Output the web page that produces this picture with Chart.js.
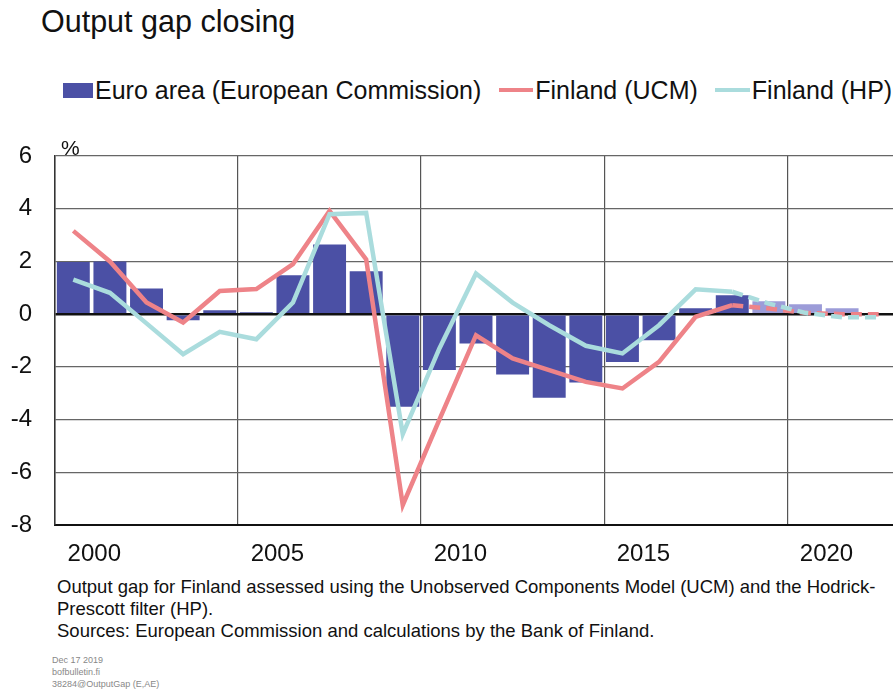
<!DOCTYPE html>
<html>
<head>
<meta charset="utf-8">
<script src="https://cdn.jsdelivr.net/npm/chart.js@4.4.0/dist/chart.umd.min.js"></script>
<style>
  html, body { margin: 0; padding: 0; background: #fff; overflow: hidden; }
  body { width: 893px; height: 690px; position: relative; font-family: "Liberation Sans", Arial, sans-serif; color: #111; }
  #title { position: absolute; left: 41px; top: 4px; font-size: 30.5px; }
  #legend { position: absolute; left: 63px; top: 74px; font-size: 25px; white-space: nowrap; }
  #legend span.it { display: inline-block; vertical-align: middle; }
  .sw { display: inline-block; vertical-align: middle; }
  #pct { position: absolute; left: 61px; top: 136px; font-size: 21px; }
  #c { position: absolute; left: 0; top: 130px; }
  #note { position: absolute; left: 57px; top: 576px; font-size: 18.5px; line-height: 22px; }
  #small { position: absolute; left: 52px; top: 654px; font-size: 9px; line-height: 12px; color: #888; }
</style>
</head>
<body>
<div id="title">Output gap closing</div>
<div id="legend">
  <span class="sw" style="width:30px;height:15px;background:#4b50a5;"></span><span class="it" style="margin-left:2px;margin-right:18px;">Euro area (European Commission)</span><span class="sw" style="width:34px;height:4px;background:#ee8388;"></span><span class="it" style="margin-left:2px;margin-right:17px;">Finland (UCM)</span><span class="sw" style="width:35px;height:4px;background:#aadcdd;"></span><span class="it" style="margin-left:2px;">Finland (HP)</span>
</div>
<canvas id="c" width="897" height="440"></canvas>
<div id="pct">%</div>
<div id="note">Output gap for Finland assessed using the Unobserved Components Model (UCM) and the Hodrick-<br>Prescott filter (HP).<br>Sources: European Commission and calculations by the Bank of Finland.</div>
<div id="small">Dec 17 2019<br>bofbulletin.fi<br>38284@OutputGap (E,AE)</div>

<script>
// years on the x axis
var years = [2000, 2001, 2002, 2003, 2004, 2005, 2006, 2007, 2008, 2009, 2010,
  2011, 2012, 2013, 2014, 2015, 2016, 2017, 2018, 2019, 2020, 2021, 2022];
// euro area output gap, %
var euroArea = [1.98, 2.0, 0.97, -0.23, 0.15, 0.07, 1.48, 2.64, 1.63, -3.51, -2.12,
  -1.11, -2.29, -3.17, -2.59, -1.82, -0.99, 0.22, 0.72, 0.49, 0.38, 0.22, null];
// Finland, UCM
var finUcm = [3.16, 2.0, 0.44, -0.32, 0.88, 0.95, 1.9, 3.92, 2.08, -7.24, -4.0,
  -0.8, -1.68, -2.12, -2.57, -2.82, -1.81, -0.1, 0.34, 0.21, 0.05, 0.0, 0.0];
// Finland, HP filter
var finHp = [1.31, 0.81, -0.35, -1.52, -0.67, -0.95, 0.44, 3.79, 3.84, -4.55, -1.3,
  1.54, 0.44, -0.42, -1.2, -1.49, -0.42, 0.94, 0.85, 0.4, 0.05, -0.12, -0.12];
var yTicks = [6, 4, 2, 0, -2, -4, -6, -8];
var firstForecast = 2019;

var fcIdx = years.indexOf(firstForecast);
var barColors = years.map(function (y, i) { return i >= fcIdx ? '#9c9cd8' : '#4b50a5'; });
var dashIt = function (ctx) { return ctx.p0DataIndex >= fcIdx - 1 ? [11, 6] : undefined; };

var chart = new Chart(document.getElementById('c'), {
  data: {
    labels: years.map(String),
    datasets: [
      { type: 'line', label: 'Finland (HP)', data: finHp, borderColor: '#aadcdd', borderWidth: 4.5,
        pointRadius: 0, tension: 0, order: 1, segment: { borderDash: dashIt } },
      { type: 'line', label: 'Finland (UCM)', data: finUcm, borderColor: '#ee8388', borderWidth: 4.5,
        pointRadius: 0, tension: 0, order: 2, segment: { borderDash: dashIt } },
      { type: 'bar', label: 'Euro area (European Commission)', data: euroArea, backgroundColor: barColors,
        barPercentage: 0.9, categoryPercentage: 1.0, order: 3 }
    ]
  },
  options: {
    responsive: false,
    animation: false,
    devicePixelRatio: 1,
    layout: { padding: { top: 26, right: 0, left: 0, bottom: 0 } },
    plugins: { legend: { display: false }, tooltip: { enabled: false } },
    scales: {
      x: {
        offset: true,
        grid: {
          offset: true,
          drawTicks: false,
          color: function (ctx) { return ctx.index % 5 === 0 ? '#555' : 'rgba(0,0,0,0)'; },
          lineWidth: 1.2
        },
        border: { color: '#111', width: 2 },
        ticks: {
          autoSkip: false,
          maxRotation: 0,
          padding: 15,
          labelOffset: 21,
          color: '#111',
          font: { family: 'Liberation Sans', size: 24 },
          callback: function (v, i) { return years[i] % 5 === 0 ? years[i] : ''; }
        },
        afterFit: function (s) { s.height = 45; s.paddingLeft = 0; s.paddingRight = 0; }
      },
      y: {
        min: -8, max: 6,
        afterBuildTicks: function (s) { s.ticks = yTicks.map(function (v) { return { value: v }; }); },
        grid: {
          drawTicks: false,
          color: function (ctx) { return ctx.tick && ctx.tick.value === 0 ? '#111' : '#666'; },
          lineWidth: function (ctx) { return ctx.tick && ctx.tick.value === 0 ? 2.5 : 1.2; }
        },
        border: { color: '#333', width: 1.5 },
        ticks: {
          padding: 23,
          color: '#111',
          font: { family: 'Liberation Sans', size: 24 }
        },
        afterFit: function (s) { s.width = 55; s.paddingTop = 0; s.paddingBottom = 0; }
      }
    }
  }
});
</script>
</body>
</html>
